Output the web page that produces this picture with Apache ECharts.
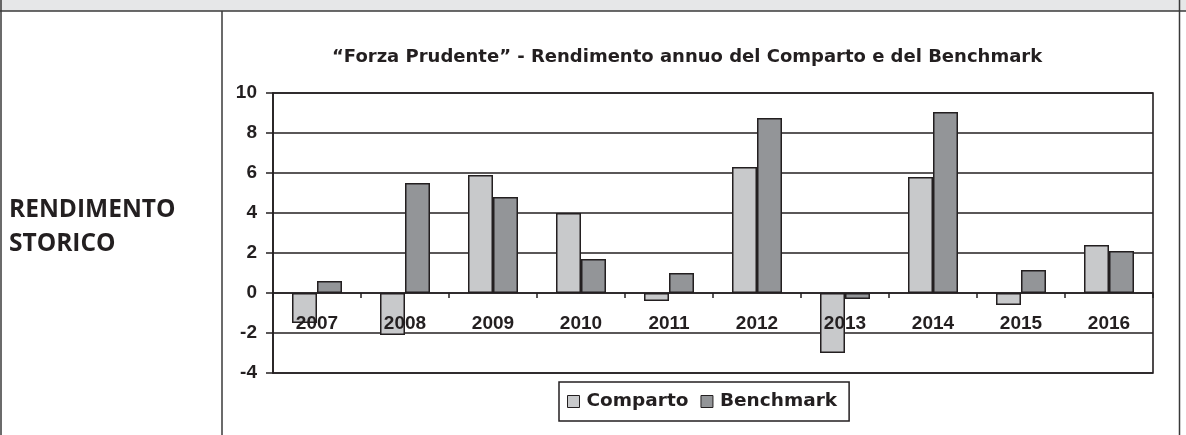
<!DOCTYPE html>
<html>
<head>
<meta charset="utf-8">
<script src="https://cdn.jsdelivr.net/npm/echarts@6/dist/echarts.min.js"></script>
<style>
html,body{margin:0;padding:0;background:#fff;}
#chart{width:1186px;height:435px;}
</style>
</head>
<body>
<div id="chart"></div>
<script>
var categories = ['2007','2008','2009','2010','2011','2012','2013','2014','2015','2016'];
var comparto  = [-1.5, -2.1, 5.9, 4.0, -0.4, 6.3, -3.0, 5.8, -0.6, 2.4];
var benchmark = [0.6, 5.5, 4.8, 1.7, 1.0, 8.75, -0.3, 9.05, 1.15, 2.1];
var seriesNames = ['Comparto', 'Benchmark'];
var yTicks = {min: -4, max: 10, interval: 2};
var titleText = '\u201CForza Prudente\u201D - Rendimento annuo del Comparto e del Benchmark';
var sideLines = ['RENDIMENTO', 'STORICO'];

var dark = '#231f20';
var font = 'Liberation Sans, Arial, sans-serif';
var wideFont = 'DejaVu Sans, sans-serif';
var chart = echarts.init(document.getElementById('chart'), null, {renderer: 'canvas'});
chart.setOption({
  animation: false,
  backgroundColor: '#ffffff',
  title: {
    text: titleText,
    left: 327, top: 43,
    textStyle: {fontFamily: wideFont, fontWeight: 'bold', fontSize: 18, color: dark}
  },
  graphic: [
    {type: 'rect', shape: {x: 0, y: 0, width: 1186, height: 11}, style: {fill: '#e6e7e8'}},
    {type: 'line', shape: {x1: 0, y1: 11, x2: 1186, y2: 11}, style: {stroke: '#3a3a3a', lineWidth: 1.5}},
    {type: 'line', shape: {x1: 1, y1: 0, x2: 1, y2: 435}, style: {stroke: '#3a3a3a', lineWidth: 1.5}},
    {type: 'line', shape: {x1: 222, y1: 11, x2: 222, y2: 435}, style: {stroke: '#3a3a3a', lineWidth: 1.5}},
    {type: 'line', shape: {x1: 1179.5, y1: 0, x2: 1179.5, y2: 435}, style: {stroke: '#3a3a3a', lineWidth: 1.5}},
    {type: 'text', left: 9, top: 193, style: {text: sideLines.join('\n'), fill: dark, fontFamily: 'Open Sans, sans-serif', fontWeight: 'bold', fontSize: 24.5, lineHeight: 34}}
  ],
  legend: {
    data: seriesNames,
    left: 559, top: 382,
    itemWidth: 12, itemHeight: 12, itemGap: 12,
    padding: [10, 12, 10, 8],
    borderColor: dark, borderWidth: 1.5,
    icon: 'rect',
    itemStyle: {borderColor: dark, borderWidth: 1},
    textStyle: {fontFamily: wideFont, fontWeight: 'bold', fontSize: 18.5, color: dark, padding: [0,0,0,2]}
  },
  grid: {
    left: 273, right: 33, top: 93, bottom: 62,
    show: true, borderColor: dark, borderWidth: 1.6, backgroundColor: 'transparent'
  },
  xAxis: {
    type: 'category',
    data: categories,
    z: 10,
    axisLine: {onZero: true, lineStyle: {color: dark, width: 1.6}},
    axisTick: {show: true, length: 5, lineStyle: {color: dark, width: 1.5}},
    axisLabel: {margin: -59, fontFamily: font, fontWeight: 'bold', fontSize: 19, color: dark},
    splitLine: {show: false}
  },
  yAxis: {
    type: 'value',
    min: yTicks.min, max: yTicks.max, interval: yTicks.interval,
    axisLine: {show: true, lineStyle: {color: dark, width: 1.6}},
    axisTick: {show: true, length: 7, lineStyle: {color: dark, width: 1.5}},
    axisLabel: {margin: 16, fontFamily: font, fontWeight: 'bold', fontSize: 19, color: dark},
    splitLine: {show: true, lineStyle: {color: dark, width: 1.5}}
  },
  series: [
    {name: seriesNames[0], type: 'bar', data: comparto, barWidth: 25, barGap: '0%',
     itemStyle: {color: '#c8c9cb', borderColor: dark, borderWidth: 1.5}},
    {name: seriesNames[1], type: 'bar', data: benchmark, barWidth: 25, barGap: '0%',
     itemStyle: {color: '#939598', borderColor: dark, borderWidth: 1.5}}
  ]
});
</script>
</body>
</html>
